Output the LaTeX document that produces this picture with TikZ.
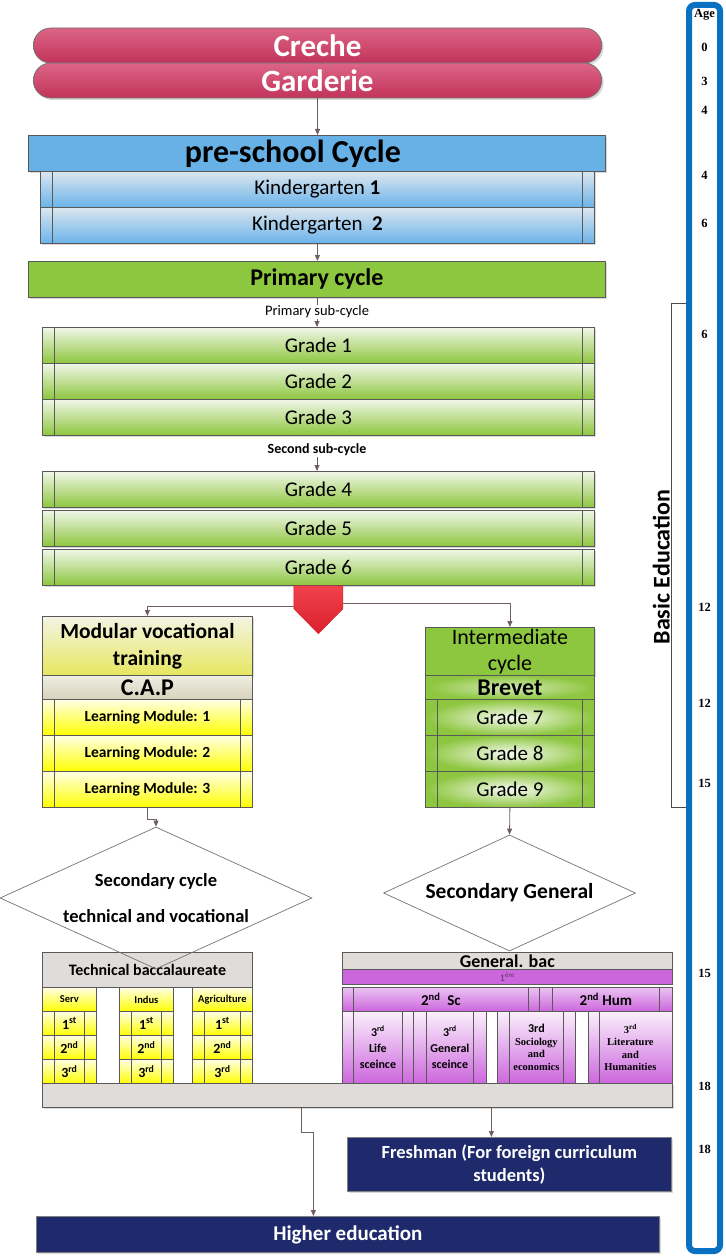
\documentclass[tikz,border=0pt]{standalone}
\usepackage{fontspec}
\setmainfont{Carlito}
\newfontfamily\agefont{Liberation Serif}
\usetikzlibrary{positioning,arrows.meta,shapes.geometric,shapes.misc,shadows}

\definecolor{pinkA}{HTML}{DC6585}
\definecolor{pinkB}{HTML}{C2335A}
\definecolor{skyblue}{HTML}{68B1E6}
\definecolor{kgtop}{HTML}{DCE6EE}
\definecolor{kgbot}{HTML}{6AB3EA}
\definecolor{leaf}{HTML}{8DC63F}
\definecolor{leaftop}{HTML}{F0F7E8}
\definecolor{redA}{HTML}{F0424C}
\definecolor{redB}{HTML}{D9202C}
\definecolor{ylwtop}{HTML}{FFFFE6}
\definecolor{ylw}{HTML}{FFFF00}
\definecolor{paletop}{HTML}{F4F4E4}
\definecolor{palebot}{HTML}{E6E660}
\definecolor{captop}{HTML}{EFEEE2}
\definecolor{capbot}{HTML}{D6D2BC}
\definecolor{stone}{HTML}{E0DCDA}
\definecolor{violet}{HTML}{CC66DD}
\definecolor{violettop}{HTML}{FBF0FC}
\definecolor{navy}{HTML}{1F2A6C}
\definecolor{ageblue}{HTML}{0A70C0}
\definecolor{wire}{HTML}{6E6060}

\begin{document}
\begin{tikzpicture}[x=1pt,y=-1pt,
  box/.style={rectangle,draw=black!65,line width=0.8pt,anchor=north west,inner sep=1pt,align=center},
  sh/.style={drop shadow={shadow xshift=2pt,shadow yshift=-2pt,opacity=0.3}},
  sides/.style={path picture={\draw[black!65,line width=0.7pt] ([xshift=#1]path picture bounding box.north west) -- ([xshift=#1]path picture bounding box.south west) ([xshift=-#1]path picture bounding box.north east) -- ([xshift=-#1]path picture bounding box.south east);}},
  lside/.style={path picture={\draw[black!65,line width=0.7pt] ([xshift=#1]path picture bounding box.north west) -- ([xshift=#1]path picture bounding box.south west);}},
  pill/.style={rounded rectangle,draw=black!55,line width=0.8pt,top color=pinkA,bottom color=pinkB,minimum width=575pt,minimum height=35pt,text=white,font=\fontsize{31}{34}\selectfont\bfseries,sh},
  grade/.style={box,sides=12pt,top color=leaftop,bottom color=leaf,minimum width=552pt,minimum height=36pt,font=\fontsize{21}{24}\selectfont,sh},
  yel/.style={top color=ylwtop,bottom color=ylw},
  vio/.style={top color=violettop,bottom color=violet},
  e/.style={draw=wire,line width=0.8pt,-{Triangle[length=6pt,width=5pt]}},
  ln/.style={draw=wire,line width=0.8pt},
  t/.style={inner sep=1pt,align=center},
  agetxt/.style={font=\agefont\fontsize{12.5}{13}\selectfont\bfseries,inner sep=0pt}]

\useasboundingbox (0,0) rectangle (725,1257);

% nursery and pre-school
\node[pill] (creche) at (317.5,45.5) {Creche};
\node[pill] (garderie) at (317.5,80.5) {Garderie};
\node[box,fill=skyblue,minimum width=577pt,minimum height=36pt,font=\fontsize{32}{34}\selectfont\bfseries,sh] (pre) at (28,135) {pre-school Cycle\hspace*{48pt}};
\node[box,sides=12pt,top color=kgtop,bottom color=kgbot,minimum width=554pt,minimum height=36pt,font=\fontsize{21}{24}\selectfont,sh] (kg1) at (40,171) {Kindergarten \textbf{1}};
\node[box,sides=12pt,top color=kgtop,bottom color=kgbot,minimum width=554pt,minimum height=36pt,font=\fontsize{21}{24}\selectfont,sh] (kg2) at (40,207) {Kindergarten\ \ \textbf{2}};
\path[e] (garderie.south) -- (garderie.south |- pre.north);

% primary
\node[box,fill=leaf,minimum width=577pt,minimum height=36pt,font=\fontsize{24}{27}\selectfont\bfseries,sh] (primary) at (28,261) {Primary cycle};
\path[e] (kg2.south) -- (kg2.south |- primary.north);
\node[t,font=\fontsize{14.5}{16}\selectfont] (sub1) at (317,312) {Primary sub-cycle};
\node[t,font=\fontsize{14}{16}\selectfont\bfseries] (sub2) at (317,450) {Second sub-cycle};
\foreach \g/\y in {1/327,2/363,3/399,4/471,5/510,6/549}
  \node[grade] (g\g) at (42,\y) {Grade \g};
\path[ln] (primary.south) -- (primary.south |- sub1.north);
\path[e] (sub1.south) -- (sub1.south |- g1.north);
\path[e] (sub2.south) -- (sub2.south |- g4.north);

% split
\coordinate (splitL) at ([xshift=-24.5pt,yshift=-21pt]g6.south);
\coordinate (splitR) at ([xshift=24.5pt,yshift=-18pt]g6.south);

% modular vocational training
\node[box,top color=paletop,bottom color=palebot,minimum width=210pt,minimum height=59pt,font=\fontsize{21.5}{27}\selectfont\bfseries,sh] (modtitle) at (42,616) {Modular vocational\\training};
\node[box,top color=captop,bottom color=capbot,minimum width=210pt,minimum height=24pt,font=\fontsize{24}{26}\selectfont\bfseries,inner sep=0pt] (cap) at (42,675) {C.A.P};
\foreach \m/\y in {1/699,2/735,3/771}
  \node[box,sides=12pt,yel,minimum width=210pt,minimum height=36pt,font=\fontsize{15.5}{18}\selectfont\bfseries] (mod\m) at (42,\y) {Learning Module: \m};

% intermediate cycle
\node[box,fill=leaf,minimum width=169pt,minimum height=48pt,font=\fontsize{22}{26}\selectfont,sh] (intertitle) at (425,627) {Intermediate\\cycle};
\node[box,inner color=leaf!40!white,outer color=leaf,minimum width=169pt,minimum height=24pt,font=\fontsize{24}{26}\selectfont\bfseries,inner sep=0pt] (brevet) at (425,675) {Brevet};
\foreach \g/\y in {7/699,8/735,9/771}
  \node[box,sides=12pt,inner color=white!92!leaf,outer color=leaf,minimum width=169pt,minimum height=36pt,font=\fontsize{21}{24}\selectfont] (g\g) at (425,\y) {Grade \g};

\path[e] (splitL) -| (modtitle.north);
\path[e] (splitR) -| (intertitle.north);
\path[draw=redB,top color=redA,bottom color=redB] ([xshift=-24.5pt]g6.south) -- ++(0,23) -- ([yshift=-48pt]g6.south) -- ([xshift=24.5pt,yshift=-23pt]g6.south) -- ([xshift=24.5pt]g6.south) -- cycle;

% technical baccalaureate
\node[box,fill=stone,minimum width=630pt,minimum height=24pt,sh] (basebar) at (42,1083) {};
\node[box,fill=stone,minimum width=210pt,minimum height=35pt,font=\fontsize{16}{18}\selectfont\bfseries] (techbac) at (42,952) {Technical baccalaureate};
\foreach \c/\x/\w/\lab in {serv/42/54/Serv,indus/119/54/Indus,agri/192/60/Agriculture}{
  \node[box,yel,minimum width=\w pt,minimum height=24pt,font=\fontsize{10.5}{12}\selectfont\bfseries] (\c) at (\x,987) {\lab};
  \foreach \r/\s [count=\i] in {1/st,2/nd,3/rd}
    \node[box,yel,sides=12pt,minimum width=\w pt,minimum height=24pt,font=\fontsize{14}{16}\selectfont\bfseries] (\c\i) at (\x,{1011+24*(\i-1)}) {\r\textsuperscript{\s}};
}

% general bac
\node[box,fill=stone,minimum width=330pt,minimum height=17pt,font=\fontsize{18}{19}\selectfont\bfseries,inner sep=0pt] (genbac) at (342,952) {General. bac};
\node[box,fill=violet,minimum width=330pt,minimum height=15pt,font=\fontsize{10}{11}\selectfont,text=violet!50!black,inner sep=0pt] (premiere) at (342,969) {1\textsuperscript{ère}};
\node[box,sides=11pt,top color=violet!40!white,bottom color=violet,minimum width=197pt,minimum height=24pt,font=\fontsize{15}{17}\selectfont\bfseries] (sc2) at (342,987) {2\textsuperscript{nd}\ \ Sc};
\node[box,sides=13pt,top color=violet!40!white,bottom color=violet,minimum width=133pt,minimum height=24pt,font=\fontsize{15}{17}\selectfont\bfseries] (hum2) at (539,987) {2\textsuperscript{nd} Hum};
\node[box,sides=11pt,vio,minimum width=71pt,minimum height=72pt,font=\fontsize{12}{16}\selectfont\bfseries] (life) at (342,1011) {3\textsuperscript{rd}\\Life\\sceince};
\node[box,sides=13pt,vio,minimum width=73pt,minimum height=72pt,font=\fontsize{12}{16}\selectfont\bfseries] (gensc) at (413,1011) {3\textsuperscript{rd}\\General\\sceince};
\node[box,sides=12pt,vio,minimum width=78pt,minimum height=72pt,font=\agefont\fontsize{10.5}{12.5}\selectfont\bfseries] (socio) at (497,1011) {{\rmfamily\fontsize{12}{14}\selectfont\bfseries 3rd}\\Sociology\\and\\economics};
\node[box,lside=11pt,vio,minimum width=84pt,minimum height=72pt,font=\agefont\fontsize{10.5}{12.5}\selectfont\bfseries] (litt) at (588,1011) {3\textsuperscript{rd}\\Literature\\and\\Humanities};

% secondary decisions
\node[diamond,draw=black!55,line width=0.7pt,shape aspect=2.2,minimum width=312pt,minimum height=142pt,inner sep=0pt,align=center,font=\fontsize{18.5}{22}\selectfont\bfseries] (secvoc) at (156,898) {Secondary cycle\\[14pt]technical and vocational};
\node[diamond,draw=black!55,line width=0.7pt,shape aspect=2.2,minimum width=252pt,minimum height=116pt,inner sep=0pt,align=center,font=\fontsize{21.5}{24}\selectfont\bfseries] (secgen) at (509.5,893) {Secondary General};
\coordinate (modjog) at ([yshift=-12pt]mod3.south);
\path[ln] (mod3.south) -- (modjog);
\path[e] (modjog) -| (secvoc.north);
\path[e] (g9.south) -- (secgen.north);

% after the bac
\node[box,fill=navy,draw=black!50,minimum width=324pt,minimum height=54pt,text=white,font=\fontsize{18.5}{23}\selectfont\bfseries,sh] (fresh) at (347,1137) {Freshman (For foreign curriculum\\students)};
\node[box,fill=navy,draw=black!50,minimum width=623pt,minimum height=36pt,text=white,font=\fontsize{21}{24}\selectfont\bfseries,sh] (higher) at (36,1216) {Higher education};
\coordinate (toFresh) at ([xshift=-18pt]fresh.north);
\coordinate (toHigher) at ([xshift=-34.5pt]higher.north);
\path[e] (toFresh |- basebar.south) -- (toFresh);
\path[e] ([xshift=-56pt]basebar.south) -- ++(0,25) -| (toHigher);

% age scale
\node[draw=ageblue,line width=6pt,rounded corners=6pt,fill=white,minimum width=31pt,minimum height=1246pt] (agebar) at (704.5,628) {};
\foreach \a/\y [count=\k] in {Age/15,0/47,3/81,4/110,4/175,6/223,6/334,12/607,12/703,15/783,15/973,18/1086,18/1149}
  \node[agetxt] (age\k) at (704.5,\y) {\a};
\draw[black!70,line width=0.7pt] (agebar.west |- 0,303) -- ++(-15,0) |- (agebar.west |- 0,807);
\node[rotate=90,anchor=south,inner sep=1pt,font=\fontsize{24}{26}\selectfont\bfseries] (basicedu) at (671,567) {Basic Education};

\end{tikzpicture}
\end{document}
